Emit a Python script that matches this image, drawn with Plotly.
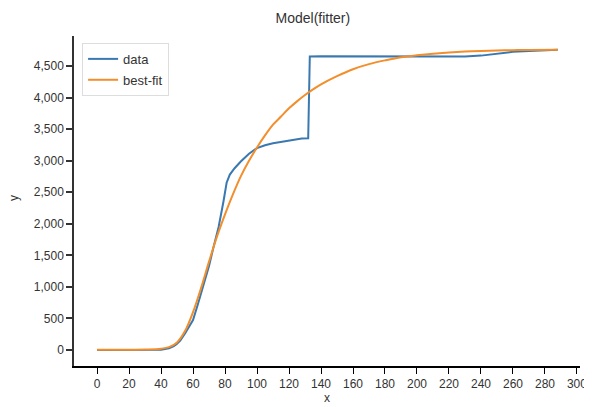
import plotly.graph_objects as go

data_x = [0, 10, 20, 30, 40, 45, 48, 50, 52, 55, 58, 60, 63, 66, 70, 73, 76, 79, 81, 83, 86, 90, 95, 100,
          105, 110, 116, 122, 128, 132, 133, 140, 160, 180, 200, 210, 220, 230, 240, 250, 260, 270, 280, 288]
data_y = [0, 0, 0, 0, 5, 25, 60, 100, 150, 260, 380, 475, 720, 990, 1330, 1650, 1950, 2350, 2650, 2780,
          2880, 2990, 3110, 3200, 3245, 3275, 3300, 3330, 3350, 3355, 4650, 4655, 4655, 4655, 4655, 4655,
          4650, 4650, 4665, 4700, 4725, 4740, 4750, 4760]

fit_x = [0, 10, 20, 30, 40, 45, 50, 55, 60, 65, 70, 75, 80, 85, 90, 95, 100, 105, 110, 115, 120, 125,
         130, 135, 140, 150, 160, 170, 180, 190, 200, 210, 220, 230, 240, 250, 260, 270, 288]
fit_y = [5, 5, 5, 8, 20, 45, 120, 300, 600, 980, 1400, 1800, 2150, 2470, 2760, 3000, 3210, 3400, 3570,
         3700, 3830, 3940, 4040, 4130, 4210, 4340, 4450, 4530, 4590, 4640, 4670, 4695, 4715, 4730, 4740,
         4748, 4752, 4756, 4760]

x_ticks = list(range(0, 301, 20))
y_ticks = list(range(0, 4501, 500))

fig = go.Figure()
fig.add_trace(go.Scatter(x=data_x, y=data_y, mode="lines", name="data", legendgroup="a",
                         line=dict(color="#3a78b0", width=2)))
fig.add_trace(go.Scatter(x=fit_x, y=fit_y, mode="lines", name="best-fit", line_shape="spline",
                         legendgroup="b", line=dict(color="#f28e2b", width=2)))

font = "Liberation Sans, Arial, sans-serif"
# the page places the figure 8px in from the top-left corner
fig.update_layout(
    width=584, height=399,
    margin=dict(l=66, r=12, t=28, b=41, autoexpand=False),
    paper_bgcolor="white", plot_bgcolor="white",
    font=dict(family=font, size=12, color="#333"),
    title=dict(text="Model(fitter)", x=0.522, xref="container", xanchor="center",
               y=0.975, yref="container", yanchor="middle", automargin=False,
               font=dict(size=14, color="#333")),
    showlegend=True,
    legend=dict(x=0.016, y=0.979, xanchor="left", yanchor="top",
                bordercolor="#dddddd", borderwidth=1, bgcolor="white",
                tracegroupgap=1,
                font=dict(size=13, color="#333"), itemwidth=30),
    xaxis=dict(range=[-14.4, 301.9], tickvals=x_ticks, ticktext=[str(v) for v in x_ticks],
               automargin=False,
               showgrid=False, zeroline=False, showline=True, linecolor="black", linewidth=2,
               ticks="outside", ticklen=6, tickwidth=1, tickcolor="black",
               tickfont=dict(size=12, color="#333"),
               title=dict(text="x", standoff=2, font=dict(size=12, color="#333"))),
    yaxis=dict(range=[-254, 4976], tickvals=y_ticks, tickformat=",", automargin=False,
               showgrid=False, zeroline=False, showline=True, linecolor="#333", linewidth=1.5,
               ticks="outside", ticklen=6, tickwidth=1.5, tickcolor="#333",
               tickfont=dict(size=12, color="#333")),
    annotations=[dict(text="y", xref="paper", yref="paper", x=-0.12, y=0.51,
                      xanchor="center", yanchor="middle", textangle=-90, showarrow=False,
                      font=dict(size=12, color="#333"))],
)

fig.write_html("out.html")
